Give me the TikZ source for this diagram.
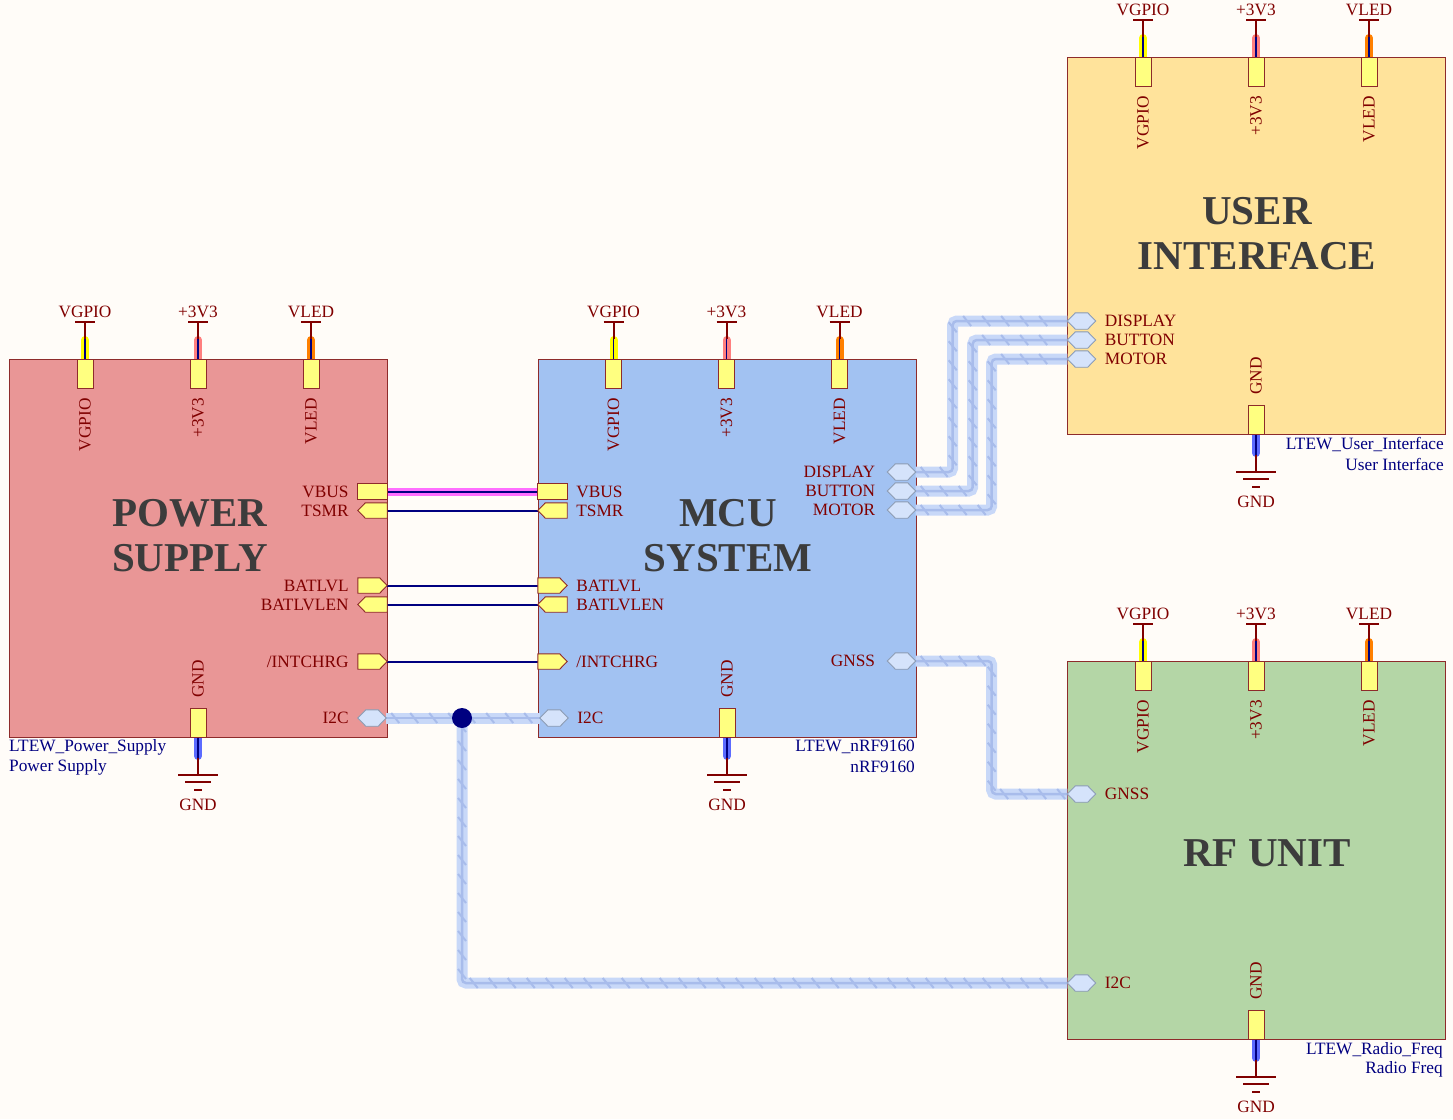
\documentclass[tikz,border=0pt]{standalone}
\usepackage{fontspec}
\setmainfont{Liberation Serif}
\usetikzlibrary{decorations.markings, positioning}

\definecolor{paper}{HTML}{FFFCF8}
\definecolor{sheetred}{HTML}{800000}
\definecolor{sheetedge}{HTML}{8E2B2B}
\definecolor{idnavy}{HTML}{000080}
\definecolor{titlegrey}{HTML}{3C3C3C}
\definecolor{psfill}{HTML}{E99696}
\definecolor{mcufill}{HTML}{A2C2F2}
\definecolor{uifill}{HTML}{FFE39B}
\definecolor{rffill}{HTML}{B4D6A6}
\definecolor{portyellow}{HTML}{FFFF80}
\definecolor{hexfill}{HTML}{D5E3FB}
\definecolor{hexedge}{HTML}{8D9DB5}
\definecolor{hexshadow}{HTML}{9AA6B8}
\definecolor{busfill}{HTML}{C8D8F8}
\definecolor{busline}{HTML}{A8BCEB}
\definecolor{hlyellow}{HTML}{FFFF00}
\definecolor{hlred}{HTML}{FF7F7F}
\definecolor{hlorange}{HTML}{FF8000}
\definecolor{hlblue}{HTML}{5C6BFF}
\definecolor{hlpink}{HTML}{FF6EFF}

\newcommand{\pinfont}{\fontsize{17.3}{19}\selectfont}
\newcommand{\titlefont}{\fontsize{41}{45}\selectfont\bfseries}

\tikzset{
    sheetbox/.style={draw=sheetedge, line width=1.2pt, anchor=north west, inner sep=0pt},
    entrybox/.style={draw=sheetedge, fill=portyellow, line width=1pt,
        minimum width=16pt, minimum height=29pt, inner sep=0pt},
    portbox/.style={minimum width=29pt, minimum height=15pt, inner sep=0pt},
    busbox/.style={minimum width=28pt, minimum height=16pt, inner sep=0pt},
    portline/.style={draw=sheetedge, fill=portyellow, line width=0.9pt, line join=miter},
    hexline/.style={draw=hexedge, fill=hexfill, line width=0.9pt},
    pinlabel/.style={text=sheetred, font=\pinfont, inner sep=0pt},
    idlabel/.style={text=idnavy, font=\pinfont, inner sep=0pt},
    title/.style={text=titlegrey, font=\titlefont, align=center, inner sep=0pt},
    stub/.style={draw=sheetred, line width=2pt},
    hl/.style={line width=8pt, line cap=round},
    navywire/.style={draw=idnavy, line width=1.6pt},
    wire/.style={draw=idnavy, line width=2pt},
    bus/.style={draw=busfill, line width=11pt, rounded corners=4pt,
        postaction={draw=busline, line width=2.5pt},
        postaction={decorate, decoration={markings,
            mark=between positions 9pt and -6pt step 19pt with {\pgftransformresetnontranslations
                \draw[busline, line width=2pt] (-4,-5) -- (4,5);}}}},
    junction/.style={circle, fill=idnavy, minimum size=20pt, inner sep=0pt}
}

\begin{document}
\begin{tikzpicture}[x=1pt, y=-1pt]
\useasboundingbox[fill=paper] (0,0) rectangle (1453,1119);

% sheet symbols
\node[sheetbox, fill=psfill, minimum width=378pt, minimum height=378pt] (ps) at (9,359) {};
\node[sheetbox, fill=mcufill, minimum width=378pt, minimum height=378pt] (mcu) at (538,359) {};
\node[sheetbox, fill=uifill, minimum width=378pt, minimum height=377pt] (ui) at (1067,57) {};
\node[sheetbox, fill=rffill, minimum width=378pt, minimum height=378pt] (rf) at (1067,661) {};

\node[title] (ps-title) at (190,536) {POWER\\SUPPLY};
\node[title] (mcu-title) at (728,536) {MCU\\SYSTEM};
\node[title] (ui-title) at (1257,234) {USER\\INTERFACE};
\node[title] (rf-title) at (1267,853) {RF UNIT};

% supply entries on top of each sheet
\foreach \sh/\ox/\top in {ps/0/359, mcu/528.5/359, ui/1058/57, rf/1058/661} {
    \foreach \pn/\px/\pl/\pc in {vgpio/85/VGPIO/hlyellow, vthree/198/+3V3/hlred, vled/311/VLED/hlorange} {
        \draw[hl, draw=\pc] (\ox+\px,\top) -- (\ox+\px,\top-19);
        \node[entrybox] (\sh-\pn) at (\ox+\px,\top+14.5) {};
        \node[pinlabel, rotate=90, anchor=east] (\sh-\pn-text) at (\ox+\px,\top+39) {\pl};
        \coordinate (\sh-\pn-pwr) at (\ox+\px,\top-37);
        \draw[navywire] (\sh-\pn.north) -- ++(0,-20);
        \draw[stub] ([yshift=20pt]\sh-\pn.north) -- (\sh-\pn-pwr);
        \draw[stub] ([xshift=-10pt]\sh-\pn-pwr) -- ([xshift=10pt]\sh-\pn-pwr);
        \node[pinlabel, anchor=base] (\sh-\pn-net) at ([yshift=5pt]\sh-\pn-pwr) {\pl};
    }
}

% ground entries
\foreach \sh/\gx/\bot in {ps/198/737, mcu/727/737, ui/1256/434, rf/1256/1039} {
    \draw[hl, draw=hlblue] (\gx,\bot) -- (\gx,\bot+19);
    \node[entrybox] (\sh-gnd) at (\gx,\bot-14.5) {};
    \node[pinlabel, rotate=90, anchor=west] (\sh-gnd-text) at (\gx,\bot-39) {GND};
    \coordinate (\sh-gnd-pwr) at (\gx,\bot+38);
    \draw[navywire] (\sh-gnd.south) -- ++(0,20);
    \draw[stub] ([yshift=-20pt]\sh-gnd.south) -- (\sh-gnd-pwr);
    \draw[stub] ([xshift=-20pt]\sh-gnd-pwr) -- ([xshift=20pt]\sh-gnd-pwr);
    \draw[stub] ([xshift=-13pt,yshift=-7pt]\sh-gnd-pwr) -- ([xshift=13pt,yshift=-7pt]\sh-gnd-pwr);
    \draw[stub] ([xshift=-4pt,yshift=-15pt]\sh-gnd-pwr) -- ([xshift=4pt,yshift=-15pt]\sh-gnd-pwr);
    \node[pinlabel, anchor=base] (\sh-gnd-net) at ([yshift=-35pt]\sh-gnd-pwr) {GND};
}

% ports, power supply
\node[portbox] (ps-vbus) at (372.5,491.5) {};
\node[portbox] (ps-tsmr) at (372.5,510.5) {};
\node[portbox] (ps-batlvl) at (372.5,585.5) {};
\node[portbox] (ps-batlvlen) at (372.5,604.5) {};
\node[portbox] (ps-intchrg) at (372.5,661.5) {};
\node[busbox] (ps-i2c) at (372,718) {};

% ports, mcu
\node[portbox] (mcu-vbus) at (552.5,491.5) {};
\node[portbox] (mcu-tsmr) at (552.5,510.5) {};
\node[portbox] (mcu-batlvl) at (552.5,585.5) {};
\node[portbox] (mcu-batlvlen) at (552.5,604.5) {};
\node[portbox] (mcu-intchrg) at (552.5,661.5) {};
\node[busbox] (mcu-i2c) at (554,718) {};
\node[busbox] (mcu-display) at (901.5,472) {};
\node[busbox] (mcu-button) at (901.5,491) {};
\node[busbox] (mcu-motor) at (901.5,510) {};
\node[busbox] (mcu-gnss) at (901.5,661) {};

% ports, user interface and rf unit
\node[busbox] (ui-display) at (1081.5,321) {};
\node[busbox] (ui-button) at (1081.5,340) {};
\node[busbox] (ui-motor) at (1081.5,359) {};
\node[busbox] (rf-gnss) at (1081.5,794) {};
\node[busbox] (rf-i2c) at (1081.5,983) {};

% nets
\draw[hlpink, line width=8pt] (ps-vbus.east) -- (mcu-vbus.west);
\draw[wire] (ps-vbus.east) -- (mcu-vbus.west);
\draw[wire] (ps-tsmr.east) -- (mcu-tsmr.west);
\draw[wire] (ps-batlvl.east) -- (mcu-batlvl.west);
\draw[wire] (ps-batlvlen.east) -- (mcu-batlvlen.west);
\draw[wire] (ps-intchrg.east) -- (mcu-intchrg.west);

\coordinate (i2c-join) at (462,718);
\draw[bus] (ps-i2c.east) -- (mcu-i2c.west);
\draw[bus] (i2c-join) |- (rf-i2c.west);
\draw[bus] (mcu-display.east) -- ++(37,0) |- (ui-display.west);
\draw[bus] (mcu-button.east) -- ++(57,0) |- (ui-button.west);
\draw[bus] (mcu-motor.east) -- ++(76,0) |- (ui-motor.west);
\draw[bus] (mcu-gnss.east) -- ++(76,0) |- (rf-gnss.west);
\node[junction] (i2c-dot) at (i2c-join) {};

% port outlines
\foreach \pt in {ps-vbus, mcu-vbus}
    \draw[portline] (\pt.north west) rectangle (\pt.south east);
\foreach \pt in {ps-tsmr, ps-batlvlen, mcu-tsmr, mcu-batlvlen}
    \draw[portline] (\pt.west) -- ([xshift=7.5pt]\pt.north west) -- (\pt.north east)
        -- (\pt.south east) -- ([xshift=7.5pt]\pt.south west) -- cycle;
\foreach \pt in {ps-batlvl, ps-intchrg, mcu-batlvl, mcu-intchrg}
    \draw[portline] (\pt.east) -- ([xshift=-7.5pt]\pt.north east) -- (\pt.north west)
        -- (\pt.south west) -- ([xshift=-7.5pt]\pt.south east) -- cycle;
\foreach \pt in {ps-i2c, mcu-i2c, mcu-display, mcu-button, mcu-motor, mcu-gnss,
        ui-display, ui-button, ui-motor, rf-gnss, rf-i2c} {
    \fill[hexshadow, xshift=1pt, yshift=-1.5pt] (\pt.west) -- ([xshift=8pt]\pt.north west) -- ([xshift=-8pt]\pt.north east)
        -- (\pt.east) -- ([xshift=-8pt]\pt.south east) -- ([xshift=8pt]\pt.south west) -- cycle;
    \draw[hexline] (\pt.west) -- ([xshift=8pt]\pt.north west) -- ([xshift=-8pt]\pt.north east)
        -- (\pt.east) -- ([xshift=-8pt]\pt.south east) -- ([xshift=8pt]\pt.south west) -- cycle;
}

% port names
\node[pinlabel, left=9pt of ps-vbus] (ps-vbus-text) {VBUS};
\node[pinlabel, left=9pt of ps-tsmr] (ps-tsmr-text) {TSMR};
\node[pinlabel, left=9pt of ps-batlvl] (ps-batlvl-text) {BATLVL};
\node[pinlabel, left=9pt of ps-batlvlen] (ps-batlvlen-text) {BATLVLEN};
\node[pinlabel, left=9pt of ps-intchrg] (ps-intchrg-text) {/INTCHRG};
\node[pinlabel, left=9pt of ps-i2c] (ps-i2c-text) {I2C};

\node[pinlabel, right=9pt of mcu-vbus] (mcu-vbus-text) {VBUS};
\node[pinlabel, right=9pt of mcu-tsmr] (mcu-tsmr-text) {TSMR};
\node[pinlabel, right=9pt of mcu-batlvl] (mcu-batlvl-text) {BATLVL};
\node[pinlabel, right=9pt of mcu-batlvlen] (mcu-batlvlen-text) {BATLVLEN};
\node[pinlabel, right=9pt of mcu-intchrg] (mcu-intchrg-text) {/INTCHRG};
\node[pinlabel, right=9pt of mcu-i2c] (mcu-i2c-text) {I2C};
\node[pinlabel, left=12pt of mcu-display] (mcu-display-text) {DISPLAY};
\node[pinlabel, left=12pt of mcu-button] (mcu-button-text) {BUTTON};
\node[pinlabel, left=12pt of mcu-motor] (mcu-motor-text) {MOTOR};
\node[pinlabel, left=12pt of mcu-gnss] (mcu-gnss-text) {GNSS};

\node[pinlabel, right=9pt of ui-display] (ui-display-text) {DISPLAY};
\node[pinlabel, right=9pt of ui-button] (ui-button-text) {BUTTON};
\node[pinlabel, right=9pt of ui-motor] (ui-motor-text) {MOTOR};
\node[pinlabel, right=9pt of rf-gnss] (rf-gnss-text) {GNSS};
\node[pinlabel, right=9pt of rf-i2c] (rf-i2c-text) {I2C};

% sheet designators and file names
\node[idlabel, anchor=west] (ps-id) at (9,747) {LTEW\_Power\_Supply};
\node[idlabel, anchor=west] (ps-file) at (9,767) {Power Supply};
\node[idlabel, anchor=east] (mcu-id) at (915,747) {LTEW\_nRF9160};
\node[idlabel, anchor=east] (mcu-file) at (915,767) {nRF9160};
\node[idlabel, anchor=east] (ui-id) at (1444,445) {LTEW\_User\_Interface};
\node[idlabel, anchor=east] (ui-file) at (1444,464) {User Interface};
\node[idlabel, anchor=east] (rf-id) at (1443,1050) {LTEW\_Radio\_Freq};
\node[idlabel, anchor=east] (rf-file) at (1443,1069) {Radio Freq};
\end{tikzpicture}
\end{document}
